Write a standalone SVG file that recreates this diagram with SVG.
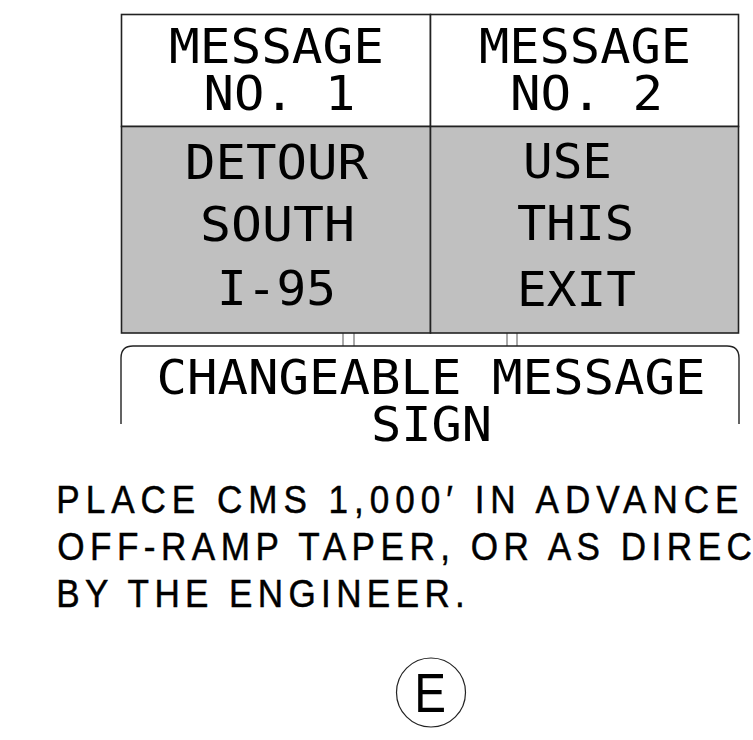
<svg xmlns="http://www.w3.org/2000/svg" width="753" height="740" viewBox="0 0 753 740">
<style>
.pn{font-family:"DejaVu Sans Mono","Liberation Mono",monospace;font-size:48px;fill:#000;text-anchor:middle}
.nt{font-family:"Liberation Sans",Arial,sans-serif;font-size:39px;fill:#000;stroke:#000;stroke-width:0.5}
.box{stroke:#222;stroke-width:1.6}
.post{stroke:#555;stroke-width:1;fill:none}
.sign{stroke:#222;stroke-width:1.4;fill:none}
</style>
<rect width="753" height="740" fill="#fff"/>
<g id="connectors">
<line class="post" x1="343" y1="333" x2="343" y2="346"/>
<line class="post" x1="354" y1="333" x2="354" y2="346"/>
<line class="post" x1="507" y1="333" x2="507" y2="346"/>
<line class="post" x1="517" y1="333" x2="517" y2="346"/>
</g>
<g id="message1">
<rect class="box" x="121.5" y="14.5" width="309" height="112" fill="#fff"/>
<rect class="box" x="121.5" y="126.5" width="309" height="206.5" fill="#c0c0c0"/>
<text class="pn" x="276.5" y="63" textLength="215" lengthAdjust="spacingAndGlyphs">MESSAGE</text>
<text class="pn" x="279.5" y="110" textLength="152" lengthAdjust="spacingAndGlyphs">NO. 1</text>
<text class="pn" x="276.5" y="179" textLength="183" lengthAdjust="spacingAndGlyphs">DETOUR</text>
<text class="pn" x="277.5" y="241" textLength="155" lengthAdjust="spacingAndGlyphs">SOUTH</text>
<text class="pn" x="276.5" y="305" textLength="119" lengthAdjust="spacingAndGlyphs">I-95</text>
</g>
<g id="message2">
<rect class="box" x="430.5" y="14.5" width="308" height="112" fill="#fff"/>
<rect class="box" x="430.5" y="126.5" width="308" height="206.5" fill="#c0c0c0"/>
<text class="pn" x="585" y="63" textLength="212" lengthAdjust="spacingAndGlyphs">MESSAGE</text>
<text class="pn" x="586.5" y="110" textLength="153" lengthAdjust="spacingAndGlyphs">NO. 2</text>
<text class="pn" x="567.5" y="178" textLength="89" lengthAdjust="spacingAndGlyphs">USE</text>
<text class="pn" x="575.5" y="240" textLength="117" lengthAdjust="spacingAndGlyphs">THIS</text>
<text class="pn" x="576.5" y="306" textLength="119" lengthAdjust="spacingAndGlyphs">EXIT</text>
</g>
<g id="sign-label">
<path class="sign" d="M121,424 V358 Q121,346 133,346 H727 Q739,346 739,358 V424"/>
<text class="pn" x="431" y="394" textLength="549" lengthAdjust="spacingAndGlyphs">CHANGEABLE MESSAGE</text>
<text class="pn" x="431.5" y="441" textLength="121" lengthAdjust="spacingAndGlyphs">SIGN</text>
</g>
<g id="note" transform="scale(0.9,1)">
<text class="nt" x="62.5" y="513" textLength="758" lengthAdjust="spacing">PLACE CMS 1,000′ IN ADVANCE</text>
<text class="nt" x="63.5" y="560" textLength="772" lengthAdjust="spacing">OFF-RAMP TAPER, OR AS DIREC</text>
<text class="nt" x="62.5" y="607" textLength="454" lengthAdjust="spacing">BY THE ENGINEER.</text>
</g>
<g id="marker-e">
<circle cx="431" cy="692.5" r="34.5" fill="none" stroke="#222" stroke-width="1.2"/>
<text x="0" y="712" transform="translate(430,0) scale(0.85,1)" font-family="Liberation Sans, Arial, sans-serif" font-size="56" text-anchor="middle" fill="#000">E</text>
</g>
</svg>
